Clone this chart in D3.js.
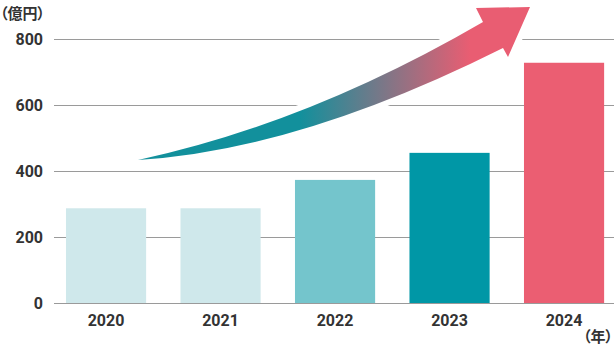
<!DOCTYPE html>
<html>
<head>
<meta charset="utf-8">
<script src="https://cdn.jsdelivr.net/npm/d3@7"></script>
<style>
  html, body { margin: 0; padding: 0; background: #fff; }
  svg { display: block; }
  text { fill: #333; }
  .unit { font-feature-settings: "palt"; }
</style>
</head>
<body>
<svg id="chart"></svg>
<script>
// data
var years = ["2020", "2021", "2022", "2023", "2024"];
var values = [287, 287, 373, 455, 728];
var barColors = ["#cfe8eb", "#cfe8eb", "#74c5cc", "#0097a6", "#eb5e72"];
var yTicks = [0, 200, 400, 600, 800];

var WIDTH = 614, HEIGHT = 352;

var svg = d3.select("#chart")
    .attr("width", WIDTH)
    .attr("height", HEIGHT);

var x = d3.scaleBand()
    .domain(years)
    .range([48.8, 621.3])
    .paddingInner(0.3)
    .paddingOuter(0.15);

var y = d3.scaleLinear()
    .domain([0, 800])
    .range([303, 39]);

// gridlines
svg.append("g")
    .selectAll("line")
    .data(yTicks)
    .enter()
    .append("line")
    .attr("x1", 54)
    .attr("x2", WIDTH)
    .attr("y1", function(d){ return y(d) + 0.5; })
    .attr("y2", function(d){ return y(d) + 0.5; })
    .attr("stroke", "#9a9a9a")
    .attr("stroke-width", 1);

// y tick labels
svg.append("g")
    .selectAll("text")
    .data(yTicks)
    .enter()
    .append("text")
    .attr("x", 43)
    .attr("y", function(d){ return y(d); })
    .attr("dy", "0.36em")
    .attr("text-anchor", "end")
    .style("font-family", "Roboto, sans-serif")
    .style("font-weight", 700)
    .style("font-size", "16px")
    .text(function(d){ return d; });

// arrow path (tail -> head)
var arrowD = "M138,160 Q309.5,123 483,22 L476,8 L530,7 L508,57 L503,48 Q299.5,150 138,160 Z";

var defs = svg.append("defs");
var grad = defs.append("linearGradient")
    .attr("id", "arrowGrad")
    .attr("gradientUnits", "userSpaceOnUse")
    .attr("x1", 300).attr("y1", 0)
    .attr("x2", 470).attr("y2", 0);
grad.append("stop").attr("offset", "0%").attr("stop-color", "#12909c");
grad.append("stop").attr("offset", "100%").attr("stop-color", "#e95d72");

// white halo that cuts the gridlines
svg.append("path")
    .attr("d", arrowD)
    .attr("fill", "#fff")
    .attr("stroke", "#fff")
    .attr("stroke-width", 12)
    .attr("stroke-linejoin", "round");

// bars
svg.append("g")
    .selectAll("rect")
    .data(values)
    .enter()
    .append("rect")
    .attr("x", function(d, i){ return x(years[i]); })
    .attr("y", function(d){ return y(d); })
    .attr("width", x.bandwidth())
    .attr("height", function(d){ return y(0) - y(d); })
    .attr("fill", function(d, i){ return barColors[i]; });

svg.append("path")
    .attr("d", arrowD)
    .attr("fill", "url(#arrowGrad)");

// x labels
svg.append("g")
    .selectAll("text")
    .data(years)
    .enter()
    .append("text")
    .attr("x", function(d){ return x(d) + x.bandwidth() / 2; })
    .attr("y", 326)
    .attr("text-anchor", "middle")
    .style("font-family", "Roboto, sans-serif")
    .style("font-weight", 700)
    .style("font-size", "16px")
    .text(function(d){ return d; });

// unit labels
svg.append("text")
    .attr("class", "unit")
    .attr("x", 0)
    .attr("y", 19)
    .style("font-family", "'Noto Sans CJK JP', sans-serif")
    .style("font-weight", 700)
    .style("font-size", "15px")
    .text("（億円）");

svg.append("text")
    .attr("class", "unit")
    .attr("x", 613)
    .attr("y", 342)
    .attr("text-anchor", "end")
    .style("font-family", "'Noto Sans CJK JP', sans-serif")
    .style("font-weight", 700)
    .style("font-size", "15px")
    .text("（年）");
</script>
</body>
</html>
